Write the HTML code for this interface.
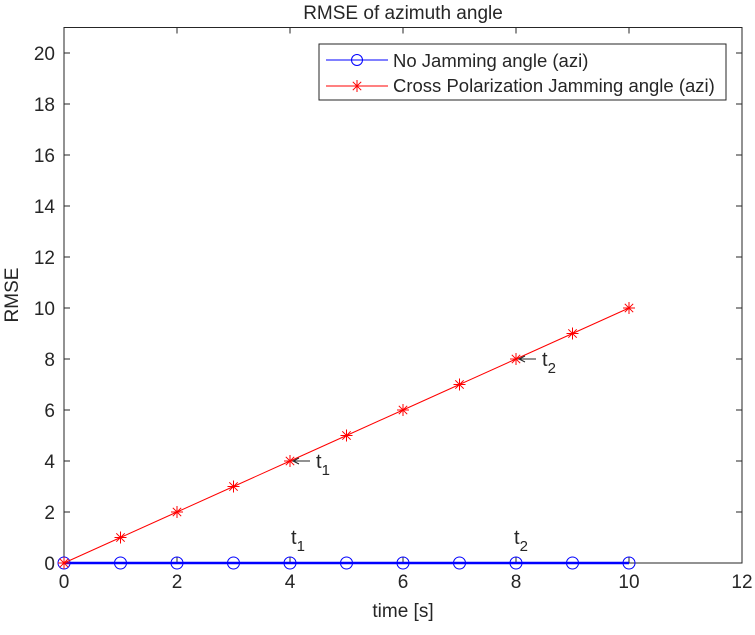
<!DOCTYPE html>
<html><head><meta charset="utf-8"><style>
body{margin:0;background:#fff;}
svg text{font-family:"Liberation Sans",Arial,sans-serif;fill:#262626;}
</style></head><body>
<svg id="chart" width="755" height="630" xmlns="http://www.w3.org/2000/svg">
<rect width="755" height="630" fill="#fff"/>
<g id="axes"></g>
<g id="series"></g>
<g id="annot"></g>
</svg>
<script>
const times=[0,1,2,3,4,5,6,7,8,9,10];
const noJam=[0,0,0,0,0,0,0,0,0,0,0];
const crossPol=[0,1,2,3,4,5,6,7,8,9,10];
const xTicks=[0,2,4,6,8,10,12];
const yTicks=[0,2,4,6,8,10,12,14,16,18,20];
const L=64,R=742,T=27.5,B=563;
const xs=v=>L+(v-0)/(12-0)*(R-L);
const ys=v=>B-(v-0)/(21-0)*(B-T);
const NS="http://www.w3.org/2000/svg";
function mk(tag,attrs,parent,txt){const e=document.createElementNS(NS,tag);for(const k in attrs)e.setAttribute(k,attrs[k]);if(txt!==undefined)e.textContent=txt;parent.appendChild(e);return e;}
const ax=document.getElementById('axes');
let e=mk('rect',{x:L,y:T,width:R-L,height:B-T,fill:'none',stroke:'#262626','stroke-width':1},ax);

xTicks.forEach(t=>{const x=xs(t);
mk('line',{x1:x,x2:x,y1:B,y2:B-6,stroke:'#262626'},ax);
mk('line',{x1:x,x2:x,y1:T,y2:T+6,stroke:'#262626'},ax);
const tx=mk('text',{x:x,y:B+25,'font-size':19,'text-anchor':'middle'},ax,String(t));
});
yTicks.forEach(t=>{const y=ys(t);
mk('line',{x1:L,x2:L+6,y1:y,y2:y,stroke:'#262626'},ax);
mk('line',{x1:R,x2:R-6,y1:y,y2:y,stroke:'#262626'},ax);
const tx=mk('text',{x:L-9,y:y+7,'font-size':19,'text-anchor':'end'},ax,String(t));
});
e=mk('text',{x:403,y:19,'font-size':19,'text-anchor':'middle'},ax,'RMSE of azimuth angle');

e=mk('text',{x:403,y:617,'font-size':19,'text-anchor':'middle'},ax,'time [s]');

e=mk('text',{x:18,y:295,'font-size':19,'text-anchor':'middle',transform:'rotate(-90 18 295)'},ax,'RMSE');

const sg=document.getElementById('series');
function star(g,x,y,c){const r=6;[[r,0],[0,r],[r*0.7,r*0.7],[r*0.7,-r*0.7]].forEach(([a,b])=>mk('line',{x1:x-a,y1:y-b,x2:x+a,y2:y+b,stroke:c,'stroke-width':1},g));}
let p=mk('polyline',{points:times.map((t,i)=>xs(t)+','+ys(noJam[i])).join(' '),fill:'none',stroke:'#0000ff','stroke-width':2.5},sg);

times.forEach((t,i)=>{const c=mk('circle',{cx:xs(t),cy:ys(noJam[i]),r:6,fill:'none',stroke:'#0000ff','stroke-width':1},sg);
});
p=mk('polyline',{points:times.map((t,i)=>xs(t)+','+ys(crossPol[i])).join(' '),fill:'none',stroke:'#ff0000','stroke-width':1},sg);

times.forEach((t,i)=>{const g=mk('g',{},sg);star(g,xs(t),ys(crossPol[i]),'#ff0000');});
const an=document.getElementById('annot');
function arrowLbl(xv,yv){const x=xs(xv),y=ys(yv);
const g=mk('g',{},an);
mk('line',{x1:x+3,y1:y,x2:x+20,y2:y,stroke:'#262626'},g);
mk('polyline',{points:`${x+9},${y-3} ${x+3},${y} ${x+9},${y+3}`,fill:'none',stroke:'#262626'},g);
return [g,x+26,y+7];}
function tlab(g,x,y,n){const t=mk('text',{x:x,y:y,'font-size':20},g,'t');mk('tspan',{dy:7,'font-size':15},t,n);}
let [g1,x1,y1]=arrowLbl(4,4);tlab(g1,x1,y1,'1');
let [g2,x2,y2]=arrowLbl(8,8);tlab(g2,x2,y2,'2');
let g3=mk('g',{},an);tlab(g3,xs(4)+1,ys(0)-19,'1');
let g4=mk('g',{},an);tlab(g4,xs(8)-2,ys(0)-19,'2');
const lg=mk('g',{},an);
mk('rect',{x:319,y:44,width:407,height:56,fill:'#fff',stroke:'#262626','stroke-width':1},lg);
mk('line',{x1:326,x2:388,y1:60,y2:60,stroke:'#0000ff'},lg);
mk('circle',{cx:357,cy:60,r:5.5,fill:'none',stroke:'#0000ff'},lg);
let t=mk('text',{x:393,y:67,'font-size':18.5},lg,'No Jamming angle (azi)');
mk('line',{x1:326,x2:388,y1:86,y2:86,stroke:'#ff0000'},lg);
star(lg,357,86,'#ff0000');
t=mk('text',{x:393,y:92,'font-size':18.5},lg,'Cross Polarization Jamming angle (azi)');
</script>
</body></html>
